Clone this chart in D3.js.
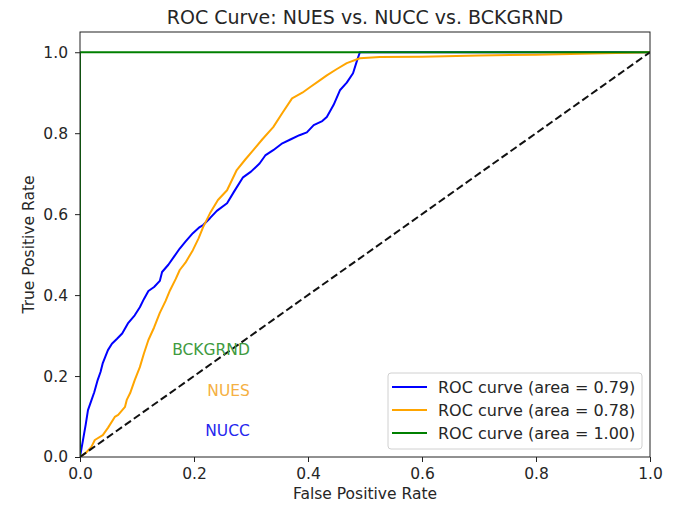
<!DOCTYPE html>
<html>
<head>
<meta charset="utf-8">
<script src="https://cdn.jsdelivr.net/npm/d3@7"></script>
<style>
  body { margin: 0; background: #fff; overflow: hidden; }
  svg { display: block; }
  text { font-family: "DejaVu Sans", sans-serif; fill: #262626; }
</style>
</head>
<body>
<div id="chart"></div>
<script>
// NUCC (blue) ROC points: [fpr, tpr]
const nuccRoc = [
  [0,0],[0.005,0.04],[0.01,0.08],[0.014,0.116],[0.02,0.14],[0.025,0.16],[0.031,0.19],
  [0.036,0.21],[0.04,0.232],[0.045,0.25],[0.049,0.264],[0.056,0.28],[0.065,0.292],
  [0.074,0.305],[0.084,0.33],[0.096,0.35],[0.105,0.37],[0.112,0.39],[0.12,0.41],
  [0.13,0.42],[0.14,0.435],[0.144,0.457],[0.155,0.475],[0.165,0.495],[0.175,0.515],
  [0.185,0.532],[0.198,0.553],[0.21,0.568],[0.216,0.573],[0.228,0.59],[0.24,0.608],
  [0.258,0.627],[0.27,0.655],[0.286,0.691],[0.3,0.705],[0.315,0.725],[0.325,0.745],
  [0.339,0.758],[0.355,0.775],[0.37,0.785],[0.385,0.795],[0.398,0.802],[0.41,0.82],
  [0.425,0.83],[0.433,0.84],[0.445,0.87],[0.456,0.906],[0.468,0.925],[0.479,0.948],
  [0.485,0.975],[0.491,1.0],[1,1]
];

// NUES (orange) ROC points
const nuesRoc = [
  [0,0],[0.01,0.01],[0.02,0.025],[0.026,0.042],[0.04,0.054],[0.049,0.072],[0.061,0.099],
  [0.067,0.104],[0.079,0.124],[0.082,0.141],[0.088,0.158],[0.096,0.19],[0.105,0.222],
  [0.112,0.255],[0.12,0.289],[0.13,0.32],[0.14,0.356],[0.15,0.385],[0.158,0.412],
  [0.168,0.44],[0.175,0.462],[0.185,0.48],[0.198,0.511],[0.208,0.54],[0.216,0.568],
  [0.228,0.602],[0.242,0.635],[0.258,0.659],[0.275,0.709],[0.29,0.735],[0.304,0.758],
  [0.32,0.785],[0.339,0.815],[0.355,0.85],[0.372,0.886],[0.39,0.9],[0.404,0.914],
  [0.42,0.93],[0.433,0.943],[0.45,0.958],[0.468,0.973],[0.491,0.985],[0.526,0.988],
  [0.6,0.989],[0.7,0.992],[0.8,0.994],[0.9,0.997],[1,1]
];

// BCKGRND (green) ROC points
const bckgrndRoc = [[0,0],[0,1],[1,1]];

// chance diagonal
const diagonal = [[0,0],[1,1]];

const seriesNames = ["NUCC", "NUES", "BCKGRND"];
const seriesColors = ["blue", "orange", "green"];
const textColors = ["#2626ee", "#f5b043", "#3f9b3f"];
const aucValues = [0.79, 0.78, 1.00];
// in-plot annotation positions [fpr, tpr], right-aligned
const labelPos = [[0.298, 0.065], [0.298, 0.165], [0.298, 0.265]];

const xTicks = [0, 0.2, 0.4, 0.6, 0.8, 1.0];
const yTicks = [0, 0.2, 0.4, 0.6, 0.8, 1.0];

const width = 679, height = 506;
const margin = { top: 32, right: 29, bottom: 49, left: 80 };
const innerWidth = width - margin.left - margin.right;
const innerHeight = height - margin.top - margin.bottom;

const svg = d3.select("#chart")
  .append("svg")
  .attr("width", width)
  .attr("height", height);

const g = svg.append("g")
  .attr("transform", `translate(${margin.left},${margin.top})`);

const xScale = d3.scaleLinear().domain([0, 1]).range([0, innerWidth]);
const yScale = d3.scaleLinear().domain([0, 1.05]).range([innerHeight, 0]);

const line = d3.line()
  .x(d => xScale(d[0]))
  .y(d => yScale(d[1]));

g.append("defs").append("clipPath").attr("id", "clip")
  .append("rect").attr("width", innerWidth).attr("height", innerHeight);

const plot = g.append("g").attr("clip-path", "url(#clip)");

[nuccRoc, nuesRoc, bckgrndRoc].forEach((data, i) => {
  plot.append("path")
    .datum(data)
    .attr("d", line)
    .attr("fill", "none")
    .attr("stroke", seriesColors[i])
    .attr("stroke-width", 2)
    .attr("stroke-linejoin", "round");
});

plot.append("path")
  .datum(diagonal)
  .attr("d", line)
  .attr("fill", "none")
  .attr("stroke", "#111")
  .attr("stroke-width", 2)
  .attr("stroke-dasharray", "7.5,3.5");

// annotations
seriesNames.forEach((name, i) => {
  g.append("text")
    .attr("x", xScale(labelPos[i][0]))
    .attr("y", yScale(labelPos[i][1]))
    .attr("text-anchor", "end")
    .attr("dy", "0.35em")
    .style("font-size", "15.5px")
    .style("fill", textColors[i])
    .text(name);
});

// axes
const xAxis = d3.axisBottom(xScale).tickValues(xTicks).tickFormat(d3.format(".1f")).tickSize(5).tickPadding(6);
const yAxis = d3.axisLeft(yScale).tickValues(yTicks).tickFormat(d3.format(".1f")).tickSize(5).tickPadding(7);

const gx = g.append("g")
  .attr("transform", `translate(0,${innerHeight})`)
  .call(xAxis);
const gy = g.append("g").call(yAxis);

[gx, gy].forEach(ax => {
  ax.select(".domain").remove();
  ax.selectAll("line").attr("stroke", "#222");
  ax.selectAll("text").style("font-size", "15.5px").style("fill", "#262626")
    .style("font-family", "DejaVu Sans, sans-serif");
});

// frame
g.append("rect")
  .attr("width", innerWidth)
  .attr("height", innerHeight)
  .attr("fill", "none")
  .attr("stroke", "#222")
  .attr("stroke-width", 1);

// legend
const legend = g.append("g").attr("transform", `translate(${innerWidth - 262},${innerHeight - 84})`);
legend.append("rect")
  .attr("width", 254)
  .attr("height", 76)
  .attr("rx", 3)
  .attr("fill", "white")
  .attr("fill-opacity", 0.8)
  .attr("stroke", "#d0d0d0");
aucValues.forEach((auc, i) => {
  const yy = 14 + i * 23;
  legend.append("line")
    .attr("x1", 4).attr("x2", 39)
    .attr("y1", yy).attr("y2", yy)
    .attr("stroke", seriesColors[i])
    .attr("stroke-width", 2);
  legend.append("text")
    .attr("x", 50).attr("y", yy)
    .attr("dy", "0.35em")
    .style("font-size", "16px")
    .text(`ROC curve (area = ${auc.toFixed(2)})`);
});

// title and axis labels
svg.append("text")
  .attr("x", margin.left + innerWidth / 2)
  .attr("y", 24)
  .attr("text-anchor", "middle")
  .style("font-size", "19px")
  .text("ROC Curve: NUES vs. NUCC vs. BCKGRND");

svg.append("text")
  .attr("x", margin.left + innerWidth / 2)
  .attr("y", 499)
  .attr("text-anchor", "middle")
  .style("font-size", "15.5px")
  .text("False Positive Rate");

svg.append("text")
  .attr("transform", "rotate(-90)")
  .attr("x", -(margin.top + innerHeight / 2))
  .attr("y", 34)
  .attr("text-anchor", "middle")
  .style("font-size", "15.5px")
  .text("True Positive Rate");
</script>
</body>
</html>
